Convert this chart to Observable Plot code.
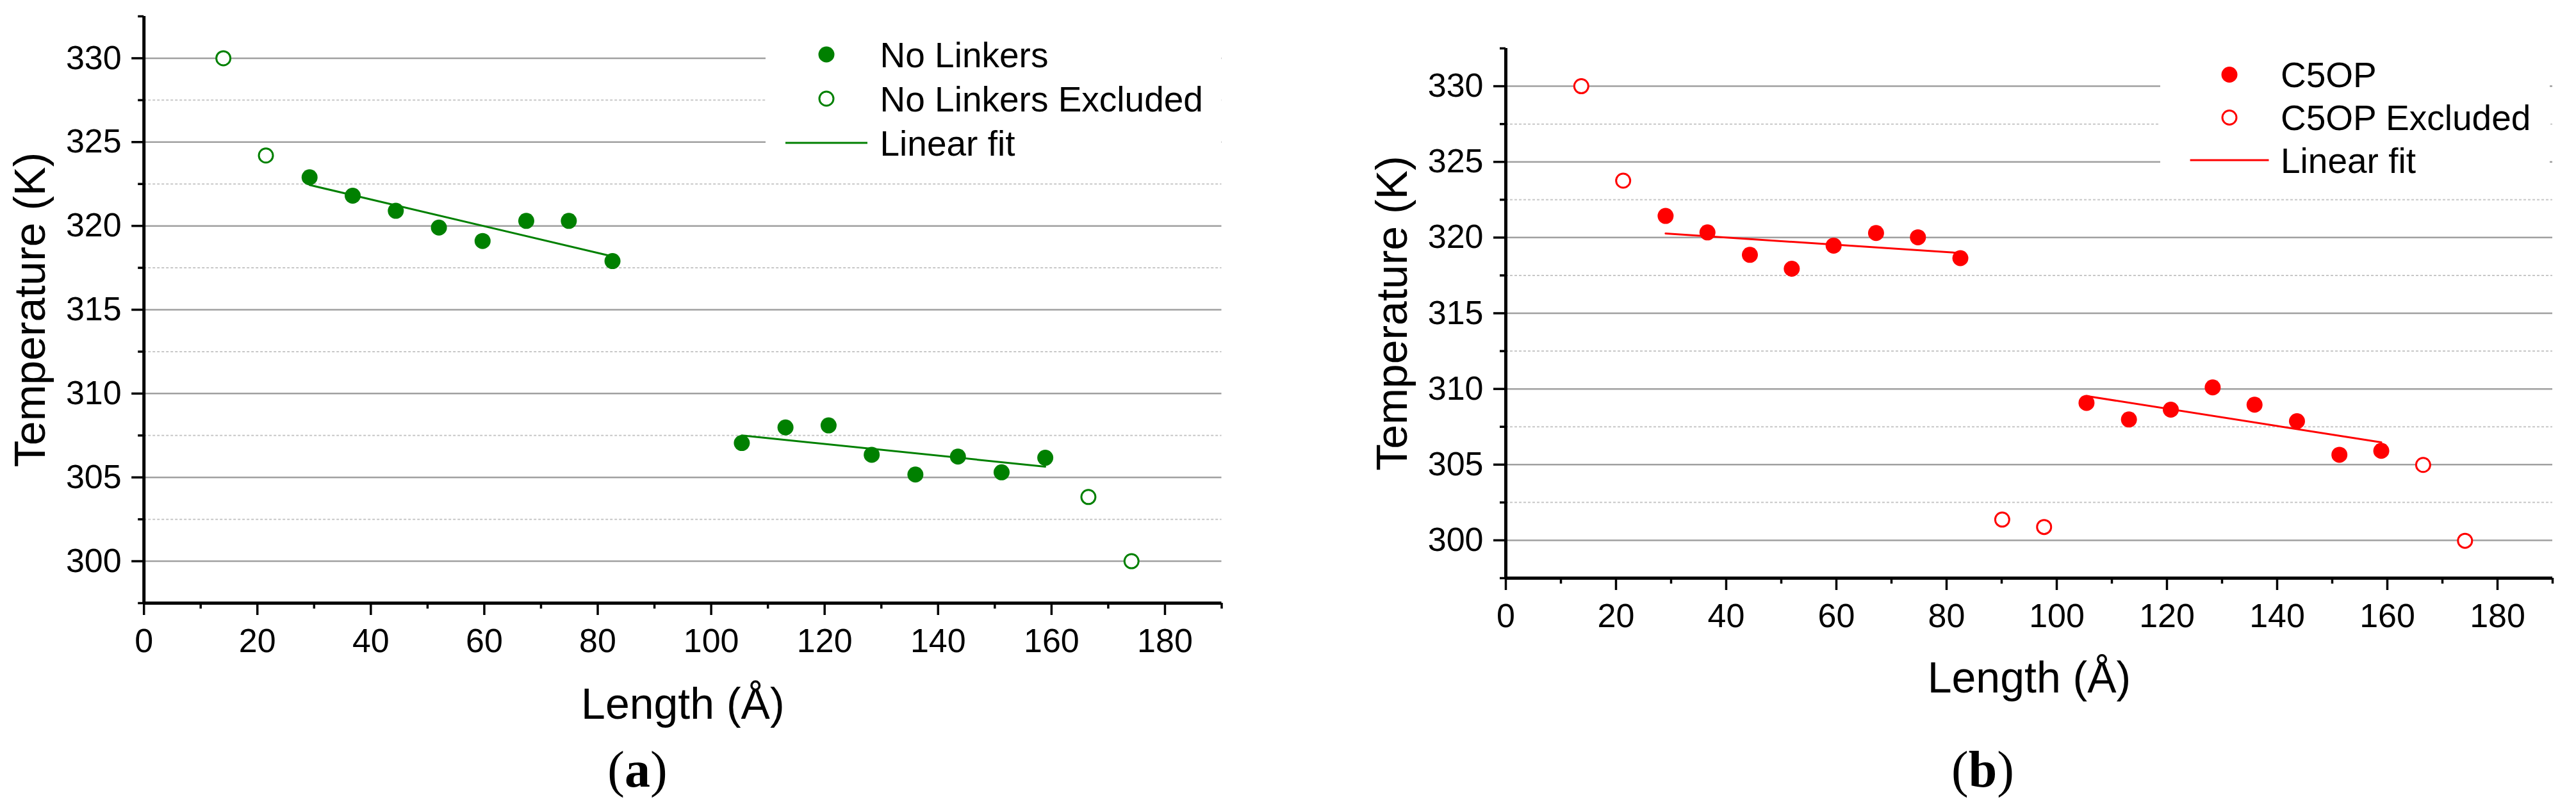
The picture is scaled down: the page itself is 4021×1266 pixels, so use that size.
<!DOCTYPE html>
<html>
<head>
<meta charset="utf-8">
<script src="https://cdn.jsdelivr.net/npm/d3@7"></script>
<script src="https://cdn.jsdelivr.net/npm/@observablehq/plot@0.6"></script>
<style>
html, body { margin: 0; padding: 0; background: #fff; }
#root { position: relative; width: 4021px; height: 1266px; overflow: hidden; background: #fff;
  font-family: "Liberation Sans", Arial, sans-serif; }
.panel { position: absolute; top: 0; }
.caption { position: absolute; font-family: "Liberation Serif", "Times New Roman", serif; font-size: 80px;
  line-height: 80px; text-align: center; width: 300px; color: #000; }
.caption b { font-weight: bold; }
.legend { position: absolute; }
</style>
</head>
<body>
<div id="root"></div>
<script>
// ---------- shared axis data ----------
const xDomain = [0, 190];
const yDomain = [297.5, 332.5];
const xMajorTicks = [0, 20, 40, 60, 80, 100, 120, 140, 160, 180];
const xMinorTicks = [10, 30, 50, 70, 90, 110, 130, 150, 170, 190];
const yMajorTicks = [300, 305, 310, 315, 320, 325, 330];
const yMinorTicks = [297.5, 302.5, 307.5, 312.5, 317.5, 322.5, 327.5, 332.5];
const yMinorGrid = [302.5, 307.5, 312.5, 317.5, 322.5, 327.5];
const xTitle = "Length (Å)";
const yTitle = "Temperature (K)";

// ---------- panel (a): No Linkers ----------
const aName = "No Linkers";
const aExclName = "No Linkers Excluded";
const aX = [29.2, 36.8, 44.4, 52.0, 59.7, 67.4, 74.9, 82.6, 105.4, 113.1, 120.7, 128.3, 136.0, 143.5, 151.2, 158.9];
const aT = [322.9, 321.8, 320.9, 319.9, 319.1, 320.3, 320.3, 317.9, 307.05, 307.98, 308.1, 306.35, 305.17, 306.24, 305.3, 306.17];
const aExclX = [14.0, 21.5, 166.5, 174.1];
const aExclT = [330.0, 324.2, 303.83, 300.0];
const aFitGroup = ["short", "short", "long", "long"];
const aFitX = [29.2, 82.6, 105.4, 158.9];
const aFitT = [322.44, 318.18, 307.5, 305.64];

// ---------- panel (b): C5OP ----------
const bName = "C5OP";
const bExclName = "C5OP Excluded";
const bX = [29.0, 36.6, 44.3, 51.9, 59.5, 67.2, 74.8, 82.5, 105.4, 113.1, 120.7, 128.3, 135.9, 143.6, 151.3, 158.9];
const bT = [321.43, 320.34, 318.86, 317.94, 319.47, 320.3, 320.02, 318.64, 309.08, 307.98, 308.63, 310.1, 308.96, 307.87, 305.65, 305.91];
const bExclX = [13.7, 21.3, 90.1, 97.7, 166.5, 174.1];
const bExclT = [330.0, 323.76, 301.37, 300.88, 304.98, 299.97];
const bFitGroup = ["short", "short", "long", "long"];
const bFitX = [29.0, 82.5, 105.4, 158.9];
const bFitT = [320.27, 318.98, 309.53, 306.47];

const fitName = "Linear fit";
const aColor = "#008000";
const bColor = "#ff0000";

const root = document.getElementById("root");

function makePanel(cfg) {
  const main = cfg.x.map((x, i) => ({x, t: cfg.t[i]}));
  const excl = cfg.exclX.map((x, i) => ({x, t: cfg.exclT[i]}));
  const fit = cfg.fitX.map((x, i) => ({x, t: cfg.fitT[i], g: cfg.fitGroup[i]}));
  const chart = Plot.plot({
    width: cfg.width,
    height: cfg.height,
    marginLeft: cfg.marginLeft,
    marginRight: cfg.marginRight,
    marginTop: cfg.marginTop,
    marginBottom: cfg.marginBottom,
    style: {fontFamily: '"Liberation Sans", Arial, sans-serif', fontSize: "52px", color: "#000", background: "transparent"},
    x: {domain: xDomain},
    y: {domain: yDomain},
    marks: [
      Plot.ruleY(yMinorGrid, {stroke: "#c8c8c8", strokeWidth: 2, strokeDasharray: "4,3"}),
      Plot.ruleY(yMajorTicks, {stroke: "#a0a0a0", strokeWidth: 2.5}),
      Plot.line(fit, {x: "x", y: "t", z: "g", stroke: cfg.color, strokeWidth: 3}),
      Plot.dot(excl, {x: "x", y: "t", r: 11, stroke: cfg.color, strokeWidth: 3, fill: "white"}),
      Plot.dot(main, {x: "x", y: "t", r: 12.5, fill: cfg.color, stroke: "none"}),
      Plot.axisX({ticks: xMajorTicks, tickSize: 19, tickPadding: 21, strokeWidth: 3.5, fontSize: 52, label: null, tickFormat: d => String(d)}),
      Plot.axisX({ticks: xMinorTicks, tickSize: 9, strokeWidth: 3.5, label: null, tickFormat: () => ""}),
      Plot.axisY({ticks: yMajorTicks, tickSize: 19, tickPadding: 16, strokeWidth: 3.5, fontSize: 52, label: null, tickFormat: d => String(d)}),
      Plot.axisY({ticks: yMinorTicks, tickSize: 9, strokeWidth: 3.5, label: null, tickFormat: () => ""}),
      Plot.ruleX([xDomain[0]], {stroke: "#000", strokeWidth: 5}),
      Plot.ruleY([yDomain[0]], {stroke: "#000", strokeWidth: 5}),
      Plot.text([xTitle], {text: d => d, frameAnchor: "bottom", textAnchor: "middle", lineAnchor: "bottom", dy: cfg.xLabelDy, fontSize: 68, fill: "#000"}),
      Plot.text([yTitle], {text: d => d, frameAnchor: "left", textAnchor: "middle", lineAnchor: "middle", rotate: -90, dx: cfg.yLabelDx, fontSize: 68, fill: "#000"})
    ]
  });
  chart.classList.add("panel");
  chart.style.left = cfg.left + "px";
  root.appendChild(chart);
}

function makeLegend(cfg) {
  const svg = d3.create("svg")
    .attr("class", "legend")
    .attr("width", cfg.width)
    .attr("height", cfg.height)
    .style("left", cfg.left + "px")
    .style("top", cfg.top + "px");
  svg.append("rect").attr("width", cfg.width).attr("height", cfg.height).attr("fill", "#fff");
  const rows = [
    {kind: "dot", label: cfg.names[0]},
    {kind: "open", label: cfg.names[1]},
    {kind: "line", label: cfg.names[2]}
  ];
  rows.forEach((row, i) => {
    const cy = cfg.rowY[i];
    if (row.kind === "dot") {
      svg.append("circle").attr("cx", cfg.symX).attr("cy", cy).attr("r", 12.5).attr("fill", cfg.color);
    } else if (row.kind === "open") {
      svg.append("circle").attr("cx", cfg.symX).attr("cy", cy).attr("r", 11).attr("fill", "#fff")
        .attr("stroke", cfg.color).attr("stroke-width", 3);
    } else {
      svg.append("line").attr("x1", cfg.lineX[0]).attr("x2", cfg.lineX[1]).attr("y1", cy).attr("y2", cy)
        .attr("stroke", cfg.color).attr("stroke-width", 3);
    }
    svg.append("text").attr("x", cfg.textX).attr("y", cy + 19.5)
      .attr("font-family", '"Liberation Sans", Arial, sans-serif').attr("font-size", 55).attr("fill", "#000")
      .text(row.label);
  });
  root.appendChild(svg.node());
}

function makeCaption(letter, centerX, top) {
  const div = document.createElement("div");
  div.className = "caption";
  div.style.left = (centerX - 150) + "px";
  div.style.top = top + "px";
  div.innerHTML = "(<b>" + letter + "</b>)";
  root.appendChild(div);
}

makePanel({
  left: 0, width: 1960, height: 1150,
  marginLeft: 224.2, marginRight: 53.5, marginTop: 25, marginBottom: 209,
  color: aColor, x: aX, t: aT, exclX: aExclX, exclT: aExclT,
  fitGroup: aFitGroup, fitX: aFitX, fitT: aFitT,
  xLabelDy: 180.7, yLabelDx: -176.5
});
makePanel({
  left: 2000, width: 2021, height: 1150,
  marginLeft: 350, marginRight: 37, marginTop: 75, marginBottom: 248,
  color: bColor, x: bX, t: bT, exclX: bExclX, exclT: bExclT,
  fitGroup: bFitGroup, fitX: bFitX, fitT: bFitT,
  xLabelDy: 178, yLabelDx: -176.5
});

makeLegend({
  left: 1195, top: 30, width: 711, height: 232, color: aColor,
  names: [aName, aExclName, fitName],
  symX: 95, rowY: [55, 124, 193], lineX: [31, 159], textX: 178.5
});
makeLegend({
  left: 3372, top: 78, width: 608, height: 205, color: bColor,
  names: [bName, bExclName, fitName],
  symX: 108, rowY: [38.5, 105.5, 172], lineX: [46.6, 169.5], textX: 188
});

makeCaption("a", 995, 1161);
makeCaption("b", 3095, 1161);
</script>
</body>
</html>
